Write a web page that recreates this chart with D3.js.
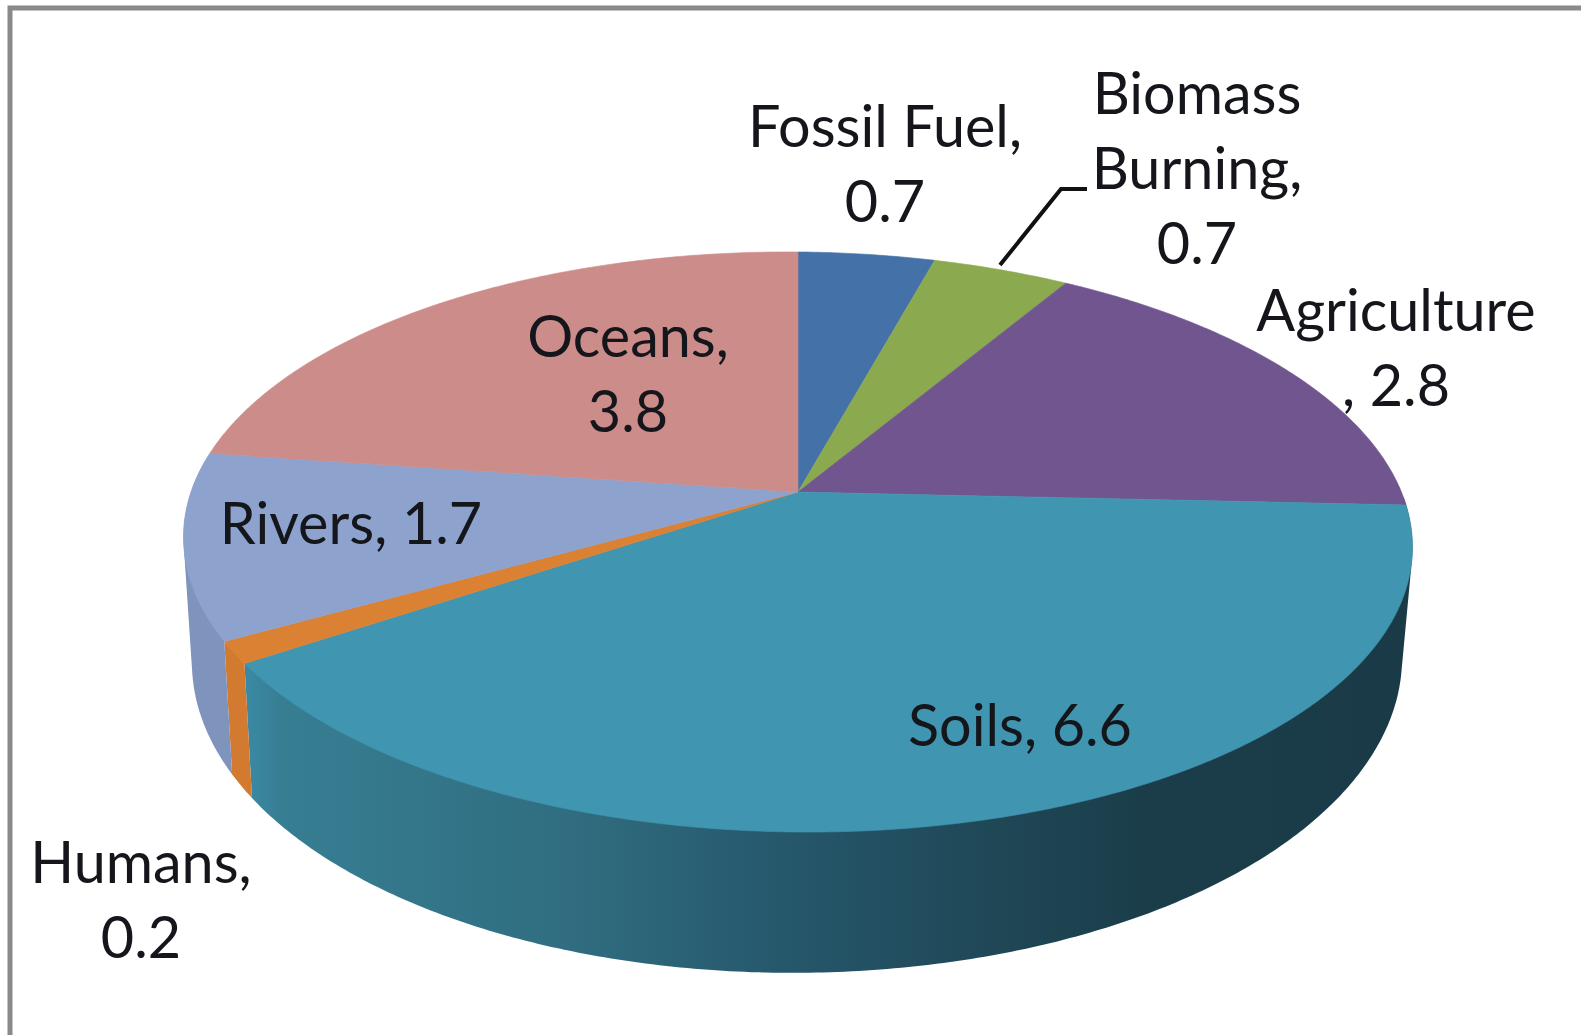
<!DOCTYPE html>
<html>
<head>
<meta charset="utf-8">
<script src="https://cdn.jsdelivr.net/npm/d3@7"></script>
<style>
html,body{margin:0;padding:0;background:#fff;overflow:hidden}
text{font-family:Lato,"Open Sans",sans-serif;fill:#14161c}
</style>
</head>
<body>
<svg id="chart" width="1581" height="1035"></svg>
<script>
// Global nitrogen sources, drawn as a tilted 3-D pie
const categories = ["Fossil Fuel", "Biomass Burning", "Agriculture", "Soils", "Humans", "Rivers", "Oceans"];
const values = [0.7, 0.7, 2.8, 6.6, 0.2, 1.7, 3.8];
const topColors = ["#4472a8", "#8ba94f", "#70558f", "#4096b0", "#db8134", "#8da3ce", "#cc8c8a"];
const wallColors = { Humans: "#d27a30", Rivers: "#7f94bc" };
const labelLines = [
  ["Fossil Fuel,", "0.7"],
  ["Biomass", "Burning,", "0.7"],
  ["Agriculture", ", 2.8"],
  ["Soils, 6.6"],
  ["Humans,", "0.2"],
  ["Rivers, 1.7"],
  ["Oceans,", "3.8"]
];

// Label anchor (centre x, first baseline y) for each slice, in category order
const labelAnchors = [[885,147],[1197,114],[1396,331],[1020,746],[141,883],[351,544],[628,357]];
const lineStep = 75;
const fontSize = 57.5;

const svg = d3.select("#chart");

// Perspective mapping of a unit circle onto the upper and lower faces
function projector(cx, cy, a, k, c, shear) {
  return theta => {
    const ux = Math.sin(theta), uy = -Math.cos(theta);
    const den = 1 + c * uy;
    const x = k * ux / den, y = a * uy / den;
    return [cx + x, cy + y + shear * x];
  };
}
const pieCentre = [798, 492];
const topFace = projector(pieCentre[0], pieCentre[1], 281.4, 605.3, -0.1724, 0.008);
const bottomFace = projector(797, 606, 303.6, 596, -0.1724, -0.004);

const arcs = d3.pie().sort(null).value(d => d)(values);
const line = d3.line();
const sweep = (a0, a1) => {
  const n = Math.max(2, Math.ceil((a1 - a0) / 0.01));
  return d3.range(n + 1).map(i => a0 + (a1 - a0) * i / n);
};

// Frame: only the top and left edges fall inside the page
svg.append("path")
  .attr("d", line([[10, 1035], [10, 8], [1581, 8]]))
  .attr("fill", "none").attr("stroke", "#8a8a8a").attr("stroke-width", 5);

// Side wall gradient runs across the front of the largest slice
const defs = svg.append("defs");
const grad = defs.append("linearGradient").attr("id", "soilWall")
  .attr("gradientUnits", "userSpaceOnUse")
  .attr("x1", 250).attr("x2", 1400).attr("y1", 0).attr("y2", 0);
[[0, "#3a88a3"], [0.026, "#377e93"], [0.278, "#306d80"], [0.478, "#25566a"], [0.652, "#1f4756"], [0.78, "#1b3d4a"], [1, "#1a3a47"]]
  .forEach(([o, c]) => grad.append("stop").attr("offset", o).attr("stop-color", c));

// Each wall is the hull of its top and bottom rims; the upper face hides the chord
const rightLimit = Math.PI / 2, leftLimit = Math.PI * 1.5;
const walls = svg.append("g");
arcs.forEach((d, i) => {
  const a0 = Math.max(d.startAngle, rightLimit), a1 = Math.min(d.endAngle, leftLimit + 0.12);
  if (a1 <= a0) return;
  const angles = sweep(a0, a1);
  const hull = d3.polygonHull(angles.map(topFace).concat(angles.map(bottomFace)));
  walls.append("path")
    .attr("d", line(hull) + "Z")
    .attr("fill", categories[i] === "Soils" ? "url(#soilWall)" : wallColors[categories[i]]);
});

// Upper face slices
const faces = svg.append("g");
arcs.forEach((d, i) => {
  const pts = [pieCentre].concat(sweep(d.startAngle, d.endAngle).map(topFace));
  faces.append("path")
    .attr("d", line(pts) + "Z")
    .attr("fill", topColors[i])
    .attr("stroke", topColors[i]).attr("stroke-width", 0.6);
});

// Leader line for the label that sits away from its slice
const leaders = svg.append("g").attr("fill", "none").attr("stroke", "#111").attr("stroke-width", 4);
leaders.append("path").attr("d", line([[1000, 265], [1061, 189], [1087, 189]]));

// Data labels
const labels = svg.append("g").attr("text-anchor", "middle").attr("font-size", fontSize);
labelLines.forEach((rows, i) => {
  const [lx, ly] = labelAnchors[i];
  rows.forEach((t, r) => {
    labels.append("text").attr("x", lx).attr("y", ly + r * lineStep).text(t);
  });
});
</script>
</body>
</html>
